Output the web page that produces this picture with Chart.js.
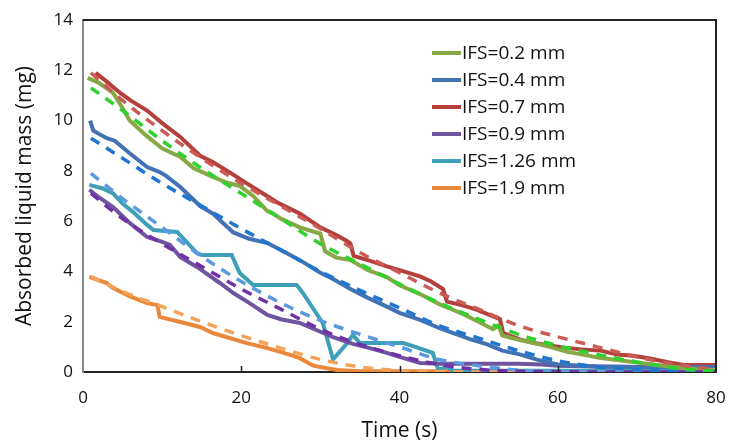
<!DOCTYPE html>
<html>
<head>
<meta charset="utf-8">
<script src="https://cdn.jsdelivr.net/npm/chart.js@4.4.1/dist/chart.umd.min.js"></script>
<style>
  html, body { margin: 0; padding: 0; background: #fff; }
  #wrap { width: 729px; height: 448px; position: relative; }
</style>
</head>
<body>
<div id="wrap"><canvas id="chart"></canvas></div>
<script>
// axis ticks
var xTicks = [0, 20, 40, 60, 80];
var yTicks = [0, 2, 4, 6, 8, 10, 12, 14];

// measured curves (time in s, mass in mg)
var t02 = [0.6, 2, 3.8, 5, 5.9, 8, 10, 12.3, 14, 16.4, 18, 19.8, 21.5, 23.3, 24, 25, 27.4, 30, 30.6, 32, 33.8, 36, 38.4, 40, 42.6, 45, 47.7, 50, 51.8, 52.5, 53, 55.2, 57, 59, 61.2, 63, 65.4, 67, 69.5, 72, 75.9, 78, 80];
var m02 = [11.7, 11.5, 11.1, 10.5, 10.0, 9.4, 8.9, 8.55, 8.1, 7.76, 7.55, 7.4, 7.0, 6.4, 6.3, 6.1, 5.75, 5.5, 4.8, 4.55, 4.45, 4.05, 3.78, 3.45, 3.1, 2.7, 2.35, 2.0, 1.7, 1.85, 1.45, 1.27, 1.15, 1.0, 0.8, 0.7, 0.56, 0.5, 0.4, 0.3, 0.16, 0.1, 0.08];

var t04 = [0.9, 1.3, 3, 4, 5.9, 8.1, 9.7, 10.5, 12.3, 14.8, 16.4, 19, 21, 23.3, 25, 27.4, 30, 31.6, 33.8, 36, 38.4, 40, 42.6, 45, 46.8, 49, 51.1, 53, 55.2, 57.5, 60, 65, 70, 75, 80];
var m04 = [10.0, 9.6, 9.3, 9.2, 8.7, 8.15, 7.95, 7.8, 7.36, 6.6, 6.3, 5.55, 5.3, 5.13, 4.85, 4.45, 3.95, 3.7, 3.3, 2.95, 2.6, 2.35, 2.07, 1.75, 1.55, 1.3, 1.1, 0.85, 0.7, 0.48, 0.3, 0.22, 0.2, 0.2, 0.2];

var t07 = [1.6, 3, 4.7, 6, 8.1, 10, 12.3, 14.8, 16.4, 18.5, 20.7, 22.5, 24.5, 27.4, 30, 32, 33.4, 33.8, 34.2, 36, 38.4, 40, 42.6, 44, 45.5, 46, 48, 49.8, 52.7, 53.1, 55.2, 57, 59, 61.2, 63, 65.4, 67.5, 69.5, 71.5, 73.8, 75.9, 78, 80];
var m07 = [11.9, 11.55, 11.1, 10.8, 10.4, 9.9, 9.35, 8.6, 8.35, 7.95, 7.5, 7.15, 6.75, 6.3, 5.75, 5.45, 5.2, 5.1, 4.62, 4.45, 4.2, 4.05, 3.8, 3.6, 3.3, 2.8, 2.65, 2.47, 2.1, 1.55, 1.3, 1.15, 1.05, 0.95, 0.9, 0.85, 0.7, 0.65, 0.55, 0.4, 0.28, 0.28, 0.28];

var t09 = [0.8, 2, 3.8, 5.9, 8.1, 10.1, 11, 12.3, 14.4, 17.3, 19, 21, 23.3, 25, 27.4, 30, 31.6, 34.1, 35.9, 38.4, 40, 42.6, 45, 50, 55, 58, 60, 65, 70, 75, 80];
var m09 = [7.25, 6.95, 6.56, 5.93, 5.37, 5.17, 5.05, 4.57, 4.18, 3.54, 3.14, 2.75, 2.27, 2.1, 1.95, 1.6, 1.39, 1.12, 0.98, 0.76, 0.6, 0.36, 0.33, 0.33, 0.33, 0.3, 0.25, 0.22, 0.2, 0.2, 0.2];

var t126 = [0.8, 2.5, 3.8, 5, 6.3, 8.1, 8.9, 11.9, 14.4, 15, 18.8, 19.8, 21.5, 27, 27.8, 30.3, 31.6, 33.4, 34.1, 35, 36.3, 40.5, 42, 44.2, 44.9, 46, 46.8, 48, 55, 60, 70, 80];
var m126 = [7.44, 7.3, 7.1, 6.7, 6.37, 5.85, 5.65, 5.57, 4.73, 4.65, 4.65, 3.94, 3.46, 3.46, 3.14, 1.95, 0.5, 1.15, 1.47, 1.15, 1.15, 1.15, 1.0, 0.76, 0.08, 0.2, 0.05, 0.05, 0.05, 0.05, 0.05, 0.05];

var t19 = [0.8, 3, 3.8, 6, 8.1, 9.4, 9.7, 12.3, 14.8, 16.4, 20.7, 23.3, 26, 27.4, 29.1, 30.8, 32.1, 35, 40, 50, 60, 68, 70, 72, 75, 80];
var m19 = [3.78, 3.54, 3.34, 3.0, 2.74, 2.66, 2.19, 1.99, 1.79, 1.55, 1.15, 0.95, 0.7, 0.55, 0.25, 0.15, 0.08, 0.03, 0.03, 0.03, 0.03, 0.03, 0.15, 0.2, 0.12, 0.1];

// fitted curves (dashed)
var tFit = [1, 5, 10, 15, 20, 25, 30, 35, 40, 45, 50, 55, 60, 65, 70, 75, 80];
var fit02 = [11.3, 10.4, 9.2, 8.1, 7.1, 6.1, 5.1, 4.3, 3.5, 2.75, 2.1, 1.5, 1.05, 0.7, 0.4, 0.15, 0.02];
var fit04 = [9.3, 8.5, 7.5, 6.6, 5.7, 4.85, 4.0, 3.25, 2.55, 1.85, 1.35, 0.85, 0.45, 0.2, 0.1, 0.05, 0.02];
var fit07 = [11.9, 10.8, 9.6, 8.5, 7.5, 6.6, 5.7, 4.75, 3.95, 3.15, 2.5, 1.85, 1.4, 1.0, 0.6, 0.3, 0.1];
var fit09 = [7.1, 6.1, 5.1, 4.2, 3.3, 2.5, 1.7, 1.1, 0.65, 0.3, 0.1, 0.03, 0.01, 0, 0, 0, 0];
var fit126 = [7.9, 6.9, 5.75, 4.6, 3.6, 2.75, 2.05, 1.5, 1.0, 0.5, 0.25, 0.08, 0.02, 0, 0, 0, 0];
var fit19 = [3.8, 3.2, 2.6, 2.0, 1.45, 0.95, 0.5, 0.2, 0.06, 0.02, 0, 0, 0, 0, 0, 0, 0];

var FONT = "'Open Sans', sans-serif";

function pts(xs, ys) {
    return xs.map(function (x, i) { return { x: x, y: ys[i] }; });
}

function solid(label, xs, ys, color) {
    return {
        label: label, data: pts(xs, ys), borderColor: color, backgroundColor: color,
        borderWidth: 4, pointRadius: 0, tension: 0, order: 2, fit: false
    };
}

function dashed(ys, color) {
    return {
        label: '', data: pts(tFit, ys), borderColor: color, backgroundColor: color,
        borderWidth: 3.5, borderDash: [10, 8], pointRadius: 0, tension: 0.4,
        cubicInterpolationMode: 'monotone', order: 1, fit: true
    };
}

// frame, inward x ticks and the legend box
var framePlugin = {
    id: 'frame',
    afterDraw: function (chart) {
        var ctx = chart.ctx, a = chart.chartArea, xs = chart.scales.x;
        ctx.save();
        ctx.strokeStyle = '#222';
        ctx.lineWidth = 2;
        ctx.beginPath();
        ctx.moveTo(a.left, a.top); ctx.lineTo(a.right, a.top); ctx.lineTo(a.right, a.bottom);
        ctx.stroke();
        ctx.lineWidth = 1.5;
        [20, 40, 60].forEach(function (v) {
            var px = Math.round(xs.getPixelForValue(v)) + 0.5;
            ctx.beginPath(); ctx.moveTo(px, a.bottom); ctx.lineTo(px, a.bottom - 6); ctx.stroke();
        });

        // legend
        var items = chart.data.datasets.filter(function (d) { return !d.fit; });
        ctx.font = '19px ' + FONT;
        ctx.textBaseline = 'middle';
        ctx.fillStyle = '#111';
        items.forEach(function (d, i) {
            var y = 53 + i * 27;
            ctx.strokeStyle = d.borderColor;
            ctx.lineWidth = 4;
            ctx.beginPath(); ctx.moveTo(432, y); ctx.lineTo(461, y); ctx.stroke();
            ctx.fillText(d.label, 462, y + 1);
        });
        ctx.restore();
    }
};

new Chart(document.getElementById('chart').getContext('2d'), {
    type: 'line',
    data: {
        datasets: [
            solid('IFS=0.2 mm', t02, m02, '#86a845'),
            solid('IFS=0.4 mm', t04, m04, '#4272b4'),
            solid('IFS=0.7 mm', t07, m07, '#b53f3b'),
            solid('IFS=0.9 mm', t09, m09, '#6f55a0'),
            solid('IFS=1.26 mm', t126, m126, '#3e9fb8'),
            solid('IFS=1.9 mm', t19, m19, '#e9883a'),
            dashed(fit02, '#2fd12f'),
            dashed(fit04, '#1f76d0'),
            dashed(fit07, '#cc5a55'),
            dashed(fit09, '#7030a8'),
            dashed(fit126, '#5c9ae0'),
            dashed(fit19, '#f5a25a')
        ]
    },
    options: {
        responsive: true,
        maintainAspectRatio: false,
        animation: false,
        layout: { padding: { left: 0, top: 20, right: 13, bottom: 0 } },
        plugins: { legend: { display: false }, tooltip: { enabled: false } },
        scales: {
            x: {
                type: 'linear', min: 0, max: 80,
                afterBuildTicks: function (s) { s.ticks = xTicks.map(function (v) { return { value: v }; }); },
                afterFit: function (s) { s.height = 76; s.paddingLeft = 0; s.paddingRight = 0; },
                grid: { display: false, drawTicks: false },
                border: { color: '#222', width: 2 },
                ticks: { color: '#111', font: { family: FONT, size: 17 }, padding: 16 },
                title: { display: true, text: 'Time (s)', color: '#111', font: { family: FONT, size: 21 }, padding: { top: 4 } }
            },
            y: {
                type: 'linear', min: 0, max: 14,
                afterBuildTicks: function (s) { s.ticks = yTicks.map(function (v) { return { value: v }; }); },
                afterFit: function (s) { s.width = 83; s.paddingTop = 0; s.paddingBottom = 0; },
                grid: { display: false, drawOnChartArea: false, drawTicks: true, tickLength: 6, tickColor: '#222', tickWidth: 1.5 },
                border: { color: '#888', width: 2 },
                ticks: { color: '#111', font: { family: FONT, size: 17 }, padding: 4 },
                title: { display: true, text: 'Absorbed liquid mass (mg)', color: '#111', font: { family: FONT, size: 21 }, padding: { top: 12, bottom: 0 } }
            }
        }
    },
    plugins: [framePlugin]
});
</script>
</body>
</html>
